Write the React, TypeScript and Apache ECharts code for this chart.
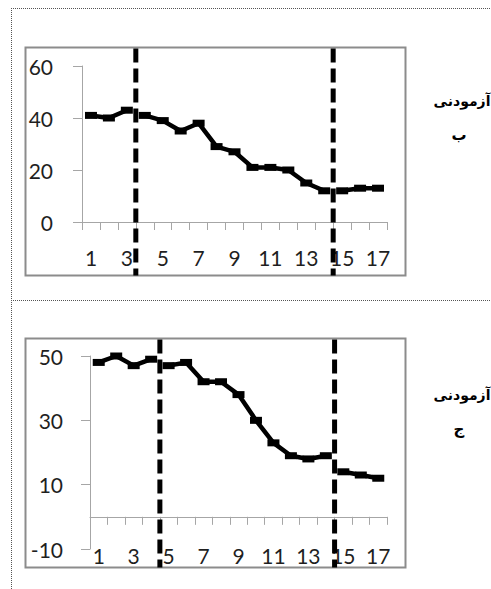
import React, { useEffect, useRef } from "react";
import * as echarts from "echarts";

// Sessions (x categories)
const sessions = ["1", "2", "3", "4", "5", "6", "7", "8", "9", "10", "11", "12", "13", "14", "15", "16", "17"];

// Subject B (آزمودنی ب)
const subjectBValues = [41, 40, 43, 41, 39, 35, 38, 29, 27, 21, 21, 20, 15, 12, 12, 13, 13];
const subjectBPhaseEnds = [3, 14, 17]; // last session number of each phase
const subjectBYTicks = [0, 20, 40, 60];
const subjectBLabel = ["آزمودنی", "ب"];

// Subject C (آزمودنی ج)
const subjectCValues = [48, 50, 47, 49, 47, 48, 42, 42, 38, 30, 23, 19, 18, 19, 14, 13, 12];
const subjectCPhaseEnds = [4, 14, 17];
const subjectCYTicks = [-10, 10, 30, 50];
const subjectCLabel = ["آزمودنی", "ج"];

const AXIS_GRAY = "#a6a6a6";
const LABEL_COLOR = "#1f1f1f";
const FONT = "Lato, 'Open Sans', sans-serif";
const FONT_SIZE = 21;

function phaseSeries(values: number[], ends: number[], axisIndex: number) {
  const out: any[] = [];
  let start = 0;
  ends.forEach((end) => {
    out.push({
      type: "line",
      xAxisIndex: axisIndex,
      yAxisIndex: axisIndex,
      data: values.map((v, i) => (i >= start && i < end ? v : "-")),
      connectNulls: false,
      symbol: "rect",
      symbolSize: [12, 7],
      showSymbol: true,
      showAllSymbol: true,
      lineStyle: { color: "#000", width: 4.5, cap: "round", join: "round" },
      itemStyle: { color: "#000" },
      z: 3,
    });
    start = end;
  });
  return out;
}

function xAxisFor(gridIndex: number, margin: number) {
  return {
    type: "category",
    gridIndex,
    data: sessions,
    boundaryGap: true,
    axisLine: { show: true, onZero: true, lineStyle: { color: AXIS_GRAY, width: 1 } },
    axisTick: { show: true, interval: 0, length: 8, lineStyle: { color: AXIS_GRAY } },
    axisLabel: { interval: 1, margin, fontSize: FONT_SIZE, color: LABEL_COLOR, fontFamily: FONT },
    splitLine: { show: false },
  };
}

function yAxisFor(gridIndex: number, ticks: number[], margin: number) {
  return {
    type: "value",
    gridIndex,
    min: ticks[0],
    max: ticks[ticks.length - 1],
    interval: ticks[1] - ticks[0],
    axisLine: { show: true, lineStyle: { color: AXIS_GRAY, width: 1 } },
    axisTick: { show: true, length: 9, lineStyle: { color: AXIS_GRAY } },
    axisLabel: { margin, fontSize: FONT_SIZE, color: LABEL_COLOR, fontFamily: FONT },
    splitLine: { show: false },
  };
}

export default function App() {
  const ref = useRef<HTMLDivElement>(null);
  useEffect(() => {
    if (!ref.current) return;
    const chart = echarts.init(ref.current, undefined, { renderer: "svg" });
    chart.setOption({
      animation: false,
      backgroundColor: "#fff",
      grid: [
        { left: 82, top: 66, width: 305, height: 156 },
        { left: 90, top: 356, width: 297, height: 193 },
      ],
      xAxis: [xAxisFor(0, 25), xAxisFor(1, -4)],
      yAxis: [yAxisFor(0, subjectBYTicks, 29), yAxisFor(1, subjectCYTicks, 27)],
      series: [
        ...phaseSeries(subjectBValues, subjectBPhaseEnds, 0),
        ...phaseSeries(subjectCValues, subjectCPhaseEnds, 1),
      ],
    });

    const boxes = [
      { x: 25.5, y: 47.5, w: 380, h: 228 },
      { x: 25.5, y: 338.5, w: 380, h: 229 },
    ];
    const phaseLines: any[] = [];
    [subjectBPhaseEnds, subjectCPhaseEnds].forEach((ends, gi) => {
      ends.slice(0, -1).forEach((end) => {
        const a = chart.convertToPixel({ xAxisIndex: gi }, end - 1) as number;
        const b = chart.convertToPixel({ xAxisIndex: gi }, end) as number;
        const x = (a + b) / 2;
        phaseLines.push({
          type: "line",
          shape: { x1: x, y1: boxes[gi].y + 1, x2: x, y2: boxes[gi].y + boxes[gi].h },
          style: { stroke: "#000", lineWidth: 5, lineDash: [14, 6] },
          z: 10,
        });
      });
    });

    const dotted = { stroke: "#555", lineWidth: 1, lineDash: [1, 1] };
    const labels = [subjectBLabel, subjectCLabel];
    const labelTops = [101, 395];
    const graphic: any[] = [
      { type: "line", shape: { x1: 11, y1: 8.5, x2: 491, y2: 8.5 }, style: dotted },
      { type: "line", shape: { x1: 11, y1: 300.5, x2: 491, y2: 300.5 }, style: dotted },
      { type: "line", shape: { x1: 11.5, y1: 8, x2: 11.5, y2: 589 }, style: dotted },
      ...boxes.map((b) => ({
        type: "rect",
        shape: { x: b.x, y: b.y, width: b.w, height: b.h },
        style: { fill: "none", stroke: "#8c8c8c", lineWidth: 2 },
        z: 1,
      })),
      ...phaseLines,
    ];
    labels.forEach((lab, i) => {
      graphic.push({
        type: "text",
        x: 462,
        y: labelTops[i],
        style: {
          text: lab[0],
          fontSize: 14,
          fontWeight: "bold",
          fontFamily: "'DejaVu Sans', sans-serif",
          fill: "#000",
          textAlign: "center",
          textVerticalAlign: "middle",
        },
      });
      graphic.push({
        type: "text",
        x: 459,
        y: labelTops[i] + 34,
        style: {
          text: lab[1],
          fontSize: 15,
          fontWeight: "bold",
          fontFamily: "'DejaVu Sans', sans-serif",
          fill: "#000",
          textAlign: "center",
          textVerticalAlign: "middle",
        },
      });
    });
    chart.setOption({ graphic });

    return () => chart.dispose();
  }, []);
  return (
    <div
      ref={ref}
      style={{ position: "absolute", left: 0, top: 0, width: 491, height: 589 }}
    />
  );
}
